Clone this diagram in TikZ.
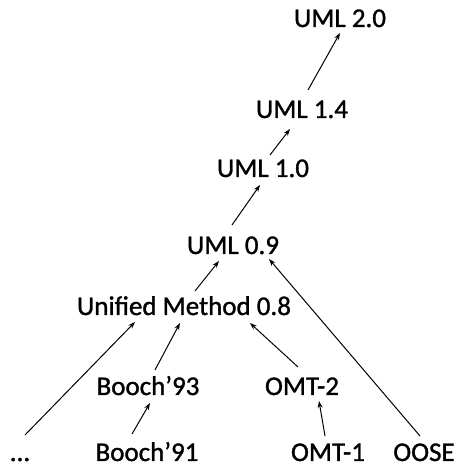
\documentclass[tikz,border=0pt]{standalone}
\usepackage{fontspec}
\setmainfont[FakeBold=1.2]{Carlito}
\usetikzlibrary{arrows.meta}
\begin{document}
\begin{tikzpicture}[x=1pt,y=1pt,
  lbl/.style={anchor=base,inner sep=0pt,text depth=0pt,font=\fontsize{27}{30}\selectfont},
  arr/.style={draw=black,line width=1pt,-{Stealth[length=7pt,width=5pt]}}]
\useasboundingbox (0,0) rectangle (459,468);
\node[lbl] (u20) at (340,441) {UML 2.0};
\node[lbl] (u14) at (302,350) {UML 1.4};
\node[lbl] (u10) at (263,291) {UML 1.0};
\node[lbl] (u09) at (233,214) {UML 0.9};
\node[lbl] (um) at (184,153) {Unified Method 0.8};
\node[lbl] (b93) at (148,73) {Booch’93};
\node[lbl] (o2) at (302,73) {OMT-2};
\node[lbl] (dots) at (20,7) {...};
\node[lbl] (b91) at (147,7) {Booch’91};
\node[lbl] (o1) at (328,7) {OMT-1};
\node[lbl] (oose) at (424,7) {OOSE};
\draw[arr] ([shift={(6,28)}]u14.base) -- ([shift={(0,-6)}]u20.base);
\draw[arr] ([shift={(7,22)}]u10.base) -- ([shift={(-12,-11)}]u14.base);
\draw[arr] ([shift={(-1,29)}]u09.base) -- ([shift={(-3,-8)}]u10.base);
\draw[arr] ([shift={(11,24)}]um.base) -- ([shift={(-14,-7)}]u09.base);
\draw[arr] ([shift={(5,26)}]dots.base) -- ([shift={(-49,-7)}]um.base);
\draw[arr] ([shift={(7,25)}]b93.base) -- ([shift={(-4,-8)}]um.base);
\draw[arr] ([shift={(-4,28)}]o2.base) -- ([shift={(66,-8)}]um.base);
\draw[arr] ([shift={(-15,27)}]b91.base) -- ([shift={(2,-8)}]b93.base);
\draw[arr] ([shift={(-3,25)}]o1.base) -- ([shift={(17,-6)}]o2.base);
\draw[arr] ([shift={(-4,25)}]oose.base) -- ([shift={(36,-5)}]u09.base);
\end{tikzpicture}
\end{document}
